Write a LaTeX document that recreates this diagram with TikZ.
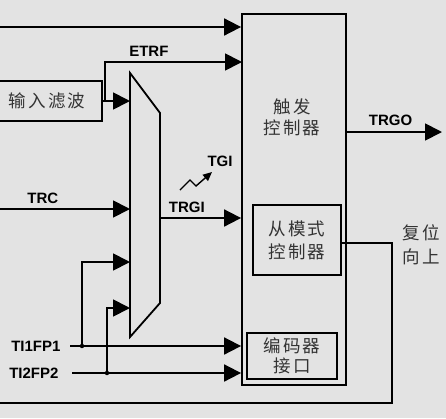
\documentclass[tikz,border=0pt]{standalone}
\usepackage{fontspec}
\setmainfont{Liberation Sans}
\newfontfamily\cjk[LetterSpace=12]{Noto Sans CJK SC}
\usetikzlibrary{arrows.meta,positioning}
\definecolor{bgc}{RGB}{227,227,227}
\tikzset{
	sig/.style={line width=1.8pt, -{Triangle[length=17pt,width=17pt]}},
	wire/.style={line width=1.8pt},
	blk/.style={draw, line width=1.8pt, inner sep=0pt},
	lbl/.style={font=\bfseries\fontsize{15}{16}\selectfont},
	zh/.style={font=\cjk\fontsize{17.5}{21}\selectfont, align=center, text=black!80},
}

\begin{document}
\begin{tikzpicture}[x=1pt, y=-1pt]
		\useasboundingbox (0,0) rectangle (446,418);
		\fill[bgc] (0,0) rectangle (446,418);
		
		\draw (294,199.5) node[blk, minimum width=104pt, minimum height=371pt] (trig) {};
		\draw (292,117) node[zh] (trigtxt) {触发\\控制器};
		\draw (297,240) node[blk, minimum width=88pt, minimum height=70pt, zh, font=\cjk\fontsize{17.5}{23}\selectfont] (slave) {从模式\\控制器};
		\draw (292,356) node[blk, minimum width=90pt, minimum height=46pt, zh, font=\cjk\fontsize{17.5}{19.5}\selectfont] (enc) {编码器\\接口};
		\draw (42,101) node[blk, minimum width=120pt, minimum height=40pt, zh] (filt) {\hspace*{10pt}输入滤波};
		
		\coordinate (muxtl) at (130,73);
		\coordinate (muxtr) at (160,113);
		\coordinate (muxbr) at (160,303);
		\coordinate (muxbl) at (130,337);
		\draw[wire, fill=bgc] (muxtl) -- (muxtr) -- (muxbr) -- (muxbl) -- cycle;
		
		\coordinate (topin) at (0,27);
		\draw[sig] (topin) -- (topin -| trig.west);
		
		\coordinate (etrfbr) at (105,101);
		\coordinate (etrfin) at (242,62);
		\draw[sig] (filt.east) -- (filt.east -| muxtl);
		\draw[sig] (etrfbr) |- (etrfin) node[lbl, above=1pt, pos=0.66] (etrf) {ETRF};
		
		\coordinate (trcin) at (0,209);
		\draw[sig] (trcin) -- (trcin -| muxtl) node[lbl, pos=0.33, above=1pt] (trc) {TRC};
		
		\coordinate (trgiout) at (160,218);
		\draw[sig] (trgiout) -- (trgiout -| trig.west) node[lbl, pos=0.33, above=1pt] (trgi) {TRGI};
		
		\draw[line width=1.4pt, -{Triangle[length=9pt,width=8pt]}] (180,190) -- (190,180) -- (196,186) -- (212,172);
		\draw (220,161) node[lbl] (tgi) {TGI};
		
		\draw (64,346) node[lbl, anchor=east] (ti1) {TI1FP1};
		\draw (62,373) node[lbl, anchor=east] (ti2) {TI2FP2};
		\coordinate (j1) at (82,346);
		\coordinate (j2) at (107,373);
		\coordinate (mi1) at (130,262);
		\coordinate (mi2) at (130,308);
		\draw[sig] (ti1.east) ++(6,0) -- (ti1.east -| trig.west);
		\draw[sig] (ti2.east) ++(10,0) -- (ti2.east -| trig.west);
		\draw[sig] (j1) |- (mi1);
		\draw[sig] (j2) |- (mi2);
		\fill (j1) circle (2.2);
		\fill (j2) circle (2.2);
		
		\coordinate (fbk) at (392,403);
		\coordinate (fbkend) at (0,403);
		\draw[wire] ([yshift=-3pt]slave.east) -| (fbk) -- (fbkend);
		\draw (399,233) node[zh, anchor=west] (rst) {复位};
		\draw (399,257) node[zh, anchor=west] (cnt) {向上};
		
		\coordinate (trgoout) at (442,132);
		\draw[sig] (trgoout -| trig.east) -- (trgoout) node[lbl, pos=0.46, above=2pt] (trgo) {TRGO};
	\end{tikzpicture}
\end{document}
